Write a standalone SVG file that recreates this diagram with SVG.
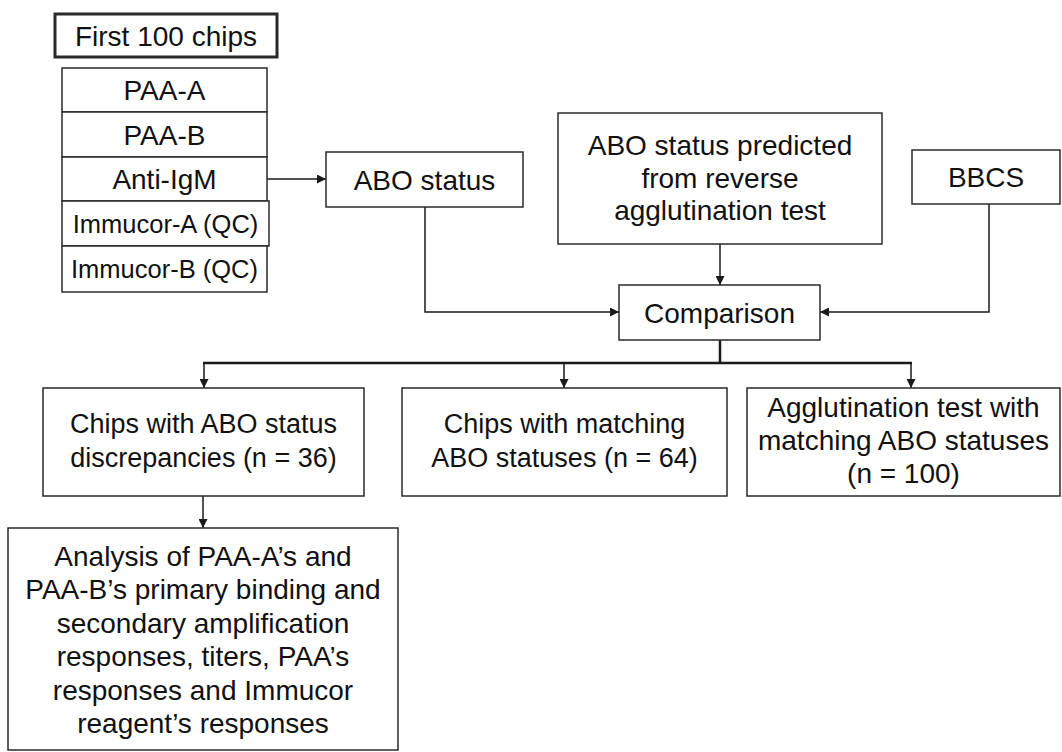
<svg xmlns="http://www.w3.org/2000/svg" width="1062" height="752" viewBox="0 0 1062 752">
<defs>
<style>
.box{fill:#fff;stroke:#2a2a2a;stroke-width:1.5}
.thick{stroke-width:3}
text{font-family:"Liberation Sans",Arial,Helvetica,sans-serif;font-size:28px;fill:#111;text-anchor:middle}
.sm{font-size:25.5px}
.md{font-size:27px}
.ln{fill:none;stroke:#1a1a1a;stroke-width:1.5}
.ln2{fill:none;stroke:#1a1a1a;stroke-width:2.5}
</style>
<marker id="ah" viewBox="0 0 10 10" refX="10" refY="5" markerWidth="9" markerHeight="9" markerUnits="userSpaceOnUse" orient="auto">
<path d="M0,0 L10,5 L0,10 z" fill="#1a1a1a"/>
</marker>
</defs>
<rect width="1062" height="752" fill="#fff"/>
<g id="connectors">
<path class="ln" d="M267,179 H326" marker-end="url(#ah)"/>
<path class="ln" d="M425,207 V312 H619" marker-end="url(#ah)"/>
<path class="ln" d="M720,244 V285" marker-end="url(#ah)"/>
<path class="ln" d="M989,204 V312 H820" marker-end="url(#ah)"/>
<path class="ln2" d="M720,340 V363"/>
<path class="ln2" d="M203,363 H912"/>
<path class="ln" d="M204,363 V388" marker-end="url(#ah)"/>
<path class="ln" d="M564,363 V388" marker-end="url(#ah)"/>
<path class="ln" d="M911,363 V388" marker-end="url(#ah)"/>
<path class="ln" d="M203,496 V528" marker-end="url(#ah)"/>
</g>
<g id="first100"><rect class="box thick" x="55" y="14" width="222" height="43"/><text x="166" y="45.5">First 100 chips</text></g>
<g id="paaA"><rect class="box" x="62" y="68" width="205" height="44"/><text x="164.5" y="100">PAA-A</text></g>
<g id="paaB"><rect class="box" x="62" y="112" width="205" height="45"/><text x="164.5" y="144.5">PAA-B</text></g>
<g id="antiIgM"><rect class="box" x="62" y="157" width="205" height="44"/><text x="164.5" y="189">Anti-IgM</text></g>
<g id="immucorA"><rect class="box" x="62" y="201" width="207" height="45"/><text class="sm" x="165.5" y="232.5">Immucor-A (QC)</text></g>
<g id="immucorB"><rect class="box" x="62" y="246" width="205" height="46"/><text class="sm" x="164.5" y="278">Immucor-B (QC)</text></g>
<g id="aboStatus"><rect class="box" x="326" y="152" width="197" height="55"/><text x="424.5" y="189.5">ABO status</text></g>
<g id="predicted"><rect class="box" x="558" y="113" width="324" height="131"/>
<text x="720" y="155">ABO status predicted</text>
<text x="720" y="188">from reverse</text>
<text x="720" y="220">agglutination test</text></g>
<g id="bbcs"><rect class="box" x="912" y="150" width="148" height="54"/><text x="986" y="187">BBCS</text></g>
<g id="comparison"><rect class="box" x="619" y="285" width="201" height="55"/><text x="719.5" y="322.5">Comparison</text></g>
<g id="discrepancies"><rect class="box" x="43" y="388" width="321" height="108"/>
<text class="md" x="203.5" y="433">Chips with ABO status</text>
<text class="md" x="203.5" y="467">discrepancies (n = 36)</text></g>
<g id="matching"><rect class="box" x="402" y="388" width="325" height="108"/>
<text class="md" x="564.5" y="433">Chips with matching</text>
<text class="md" x="564.5" y="467">ABO statuses (n = 64)</text></g>
<g id="agglutination"><rect class="box" x="747" y="388" width="313" height="108"/>
<text x="903.5" y="417">Agglutination test with</text>
<text x="903.5" y="450">matching ABO statuses</text>
<text x="903.5" y="483">(n = 100)</text></g>
<g id="analysis"><rect class="box" x="8" y="528" width="390" height="222"/>
<text x="203" y="566">Analysis of PAA-A’s and</text>
<text x="203" y="599">PAA-B’s primary binding and</text>
<text x="203" y="633">secondary amplification</text>
<text x="203" y="666">responses, titers, PAA’s</text>
<text x="203" y="700">responses and Immucor</text>
<text x="203" y="733">reagent’s responses</text></g>
</svg>
